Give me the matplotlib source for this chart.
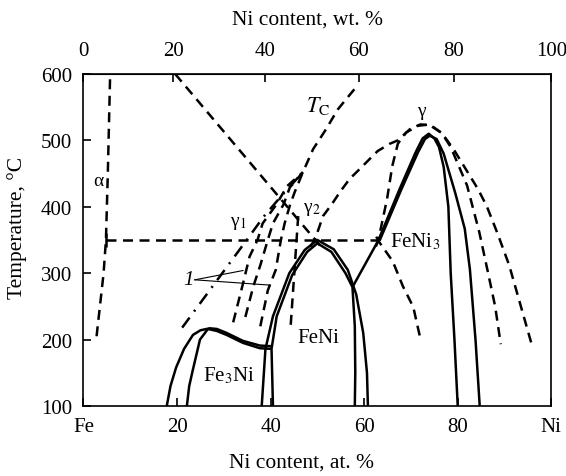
import numpy as np
import matplotlib.pyplot as plt

plt.rcParams['font.family'] = ['Liberation Serif', 'DejaVu Serif']
plt.rcParams['mathtext.fontset'] = 'stix'
plt.rcParams['font.size'] = 15

# --- phase boundaries, (Ni at.%, T degC) ---
alpha_at = [2.8, 4.3, 4.8, 5.2, 5.7]
alpha_T = [205, 300, 350, 450, 600]

eut_at = [4.8, 63.0]
eut_T = [350, 350]

spin_at = [19.6, 51.0]
spin_T = [600, 338]

tc_at = [57.9, 54.4, 51.6, 49.1, 46.9]
tc_T = [577, 547, 514, 487, 452]

# family of lines "1" converging to the Tc point
l1_at = [21.1, 35.1, 38.5, 42.5, 46.9]
l1_T = [218, 352, 385, 418, 452]
l2_at = [32.0, 34.3, 35.5, 37.2, 38.3, 41.3, 43.5, 46.9]
l2_T = [226, 290, 325, 350, 375, 404, 431, 452]
l3_at = [34.6, 36.3, 37.8, 39.4, 40.5, 42.8, 44.1, 46.9]
l3_T = [234, 280, 312, 350, 375, 404, 429, 452]
l4_at = [37.8, 39.4, 41.1, 42.2, 43.0, 44.2, 45.2, 46.9]
l4_T = [220, 274, 305, 350, 375, 404, 423, 452]
g2_at = [45.9, 44.3]
g2_T = [386, 222]

# dashed gamma domes
big_at = [48.5, 49.5, 51.2, 53.1, 54.8, 56.9, 59.5, 61.6, 62.9, 65.5, 67.2, 69.8, 72.0, 74.0,
          76.6, 79.0, 84.3, 86.2, 88.5, 91.0, 93.3, 95.8]
big_T = [340, 351, 386, 404, 422, 442, 460, 475, 484, 495, 500, 517, 524, 523,
         511, 488, 427, 401, 360, 312, 255, 193]
inner_at = [62.5, 63.0, 64.9, 66.0, 67.2, 69.0, 71.5, 74.0, 76.6, 78.5, 82.0, 84.6, 86.5, 88.0, 89.2]
inner_T = [340, 349, 412, 461, 495, 512, 522, 524, 511, 490, 432, 362, 300, 250, 193]
low_at = [62.6, 63.0, 66.1, 68.3, 70.5, 71.9]
low_T = [355, 349, 318, 280, 249, 205]

# ordered phases (solid)
fe3ni_out_at = [17.8, 18.6, 19.8, 21.5, 23.4, 25.0, 27.0, 28.5, 30.6, 34.1, 37.7, 40.2]
fe3ni_out_T = [100, 130, 158, 186, 207, 214, 217, 216, 210, 198, 191, 190]
fe3ni_low_at = [26.6, 28.5, 30.6, 34.1, 37.7, 40.2]
fe3ni_low_T = [216, 213, 207, 195, 187, 186]
fe3ni_in_at = [22.1, 22.6, 23.4, 24.9, 26.6]
fe3ni_in_T = [100, 130, 155, 200, 216]

feni_out_at = [38.1, 38.9, 40.5, 44.0, 47.3, 50.0, 53.5, 56.5, 58.3, 59.8, 60.6, 60.8]
feni_out_T = [100, 186, 235, 300, 335, 350, 336, 305, 268, 210, 150, 100]
feni_in_at = [40.5, 40.2, 41.3, 44.6, 47.8, 50.0, 53.0, 56.0, 57.5, 58.0, 58.1, 58.0]
feni_in_T = [100, 186, 235, 297, 332, 345, 332, 300, 279, 220, 150, 100]

feni3_a_at = [57.5, 63.0, 67.6, 71.0, 72.5, 73.8, 75.0, 76.0, 77.0, 78.0, 78.5, 79.3, 80.0]
feni3_a_T = [279, 349, 427, 482, 503, 510, 503, 490, 460, 400, 300, 200, 100]
feni3_b_at = [63.3, 68.0, 71.5, 73.0, 74.0, 75.5, 77.0, 79.5, 81.5, 82.6, 83.8, 84.7]
feni3_b_T = [349, 427, 482, 502, 507, 502, 480, 420, 367, 306, 200, 100]

# top axis: wt.% Ni
wt_ticks = [0, 20, 40, 60, 80, 100]
M_NI, M_FE = 58.69, 55.845


def wt2at(w):
    w = np.asarray(w, dtype=float)
    n = w / M_NI
    return 100 * n / (n + (100 - w) / M_FE)


def at2wt(a):
    a = np.asarray(a, dtype=float)
    m = a * M_NI
    return 100 * m / (m + (100 - a) * M_FE)


fig = plt.figure(figsize=(5.66, 4.77), dpi=100)
ax = fig.add_axes([0.1475, 0.1468, 0.8265, 0.696])
ax.set_xlim(0, 100)
ax.set_ylim(100, 600)

LW = 1.8
solid = dict(color='black', lw=LW, solid_capstyle='butt')
dash = dict(color='black', lw=LW, linestyle=(0, (4, 2.6)))
thin = dict(color='black', lw=0.8)

ax.plot(alpha_at, alpha_T, **dash)
ax.plot(eut_at, eut_T, **dash)
ax.plot([eut_at[0], eut_at[0]], [340, 360], **solid)
ax.plot(spin_at, spin_T, **dash)
ax.plot(tc_at, tc_T, **dash)
ax.plot(l1_at, l1_T, color='black', lw=LW, linestyle=(0, (5, 3, 0.8, 3)))
for xs, ys in [(l2_at, l2_T), (l3_at, l3_T), (l4_at, l4_T), (g2_at, g2_T)]:
    ax.plot(xs, ys, **dash)
ax.plot(big_at, big_T, **dash)
ax.plot(inner_at, inner_T, **dash)
ax.plot(low_at, low_T, **dash)

for xs, ys in [(fe3ni_out_at, fe3ni_out_T), (fe3ni_low_at, fe3ni_low_T), (fe3ni_in_at, fe3ni_in_T),
               (feni_out_at, feni_out_T), (feni_in_at, feni_in_T),
               (feni3_a_at, feni3_a_T), (feni3_b_at, feni3_b_T)]:
    ax.plot(xs, ys, **solid)

# leader lines for label "1"
ax.plot([23.8, 34.1], [290, 304], **thin)
ax.plot([23.8, 39.9], [290, 282], **thin)

# labels inside the diagram
ax.text(22.4, 291, '1', style='italic', ha='center', va='center')
ax.text(3.2, 439, 'α', ha='center', va='center', fontsize=14)
ax.text(33.0, 377, 'γ$_1$', ha='center', va='center', fontsize=14)
ax.text(48.8, 397, 'γ$_2$', ha='center', va='center', fontsize=14)
ax.text(72.3, 545, 'γ', ha='center', va='center', fontsize=14)
ax.text(50.1, 553, r'$T_\mathrm{C}$', ha='center', va='center', fontsize=16)
ax.text(31.1, 147, 'Fe$_3$Ni', ha='center', va='center')
ax.text(50.2, 203, 'FeNi', ha='center', va='center')
ax.text(65.5, 349, 'FeNi$_3$', ha='left', va='center')

ax.set_xticks([0, 20, 40, 60, 80, 100])
ax.set_xticklabels(['Fe', '20', '40', '60', '80', 'Ni'])
ax.set_yticks([100, 200, 300, 400, 500, 600])
ax.tick_params(direction='in', length=6, width=1.2, top=False, right=False)
ax.tick_params(axis='x', pad=8)
ax.tick_params(axis='y', pad=8)
for s in ax.spines.values():
    s.set_linewidth(1.2)

top = ax.secondary_xaxis('top', functions=(at2wt, wt2at))
top.set_xticks(wt_ticks)
top.tick_params(direction='in', length=6, width=1.2, pad=10)

# axis titles
ax.text(0.467, -0.169, 'Ni content, at. %', transform=ax.transAxes,
        ha='center', va='center', fontsize=15.5)
ax.text(0.478, 1.166, 'Ni content, wt. %', transform=ax.transAxes,
        ha='center', va='center', fontsize=15.5)
ax.text(-0.142, 0.539, 'Temperature, °C', transform=ax.transAxes,
        ha='center', va='center', rotation=90, fontsize=15.5)

fig.savefig('out.png', dpi=100)
